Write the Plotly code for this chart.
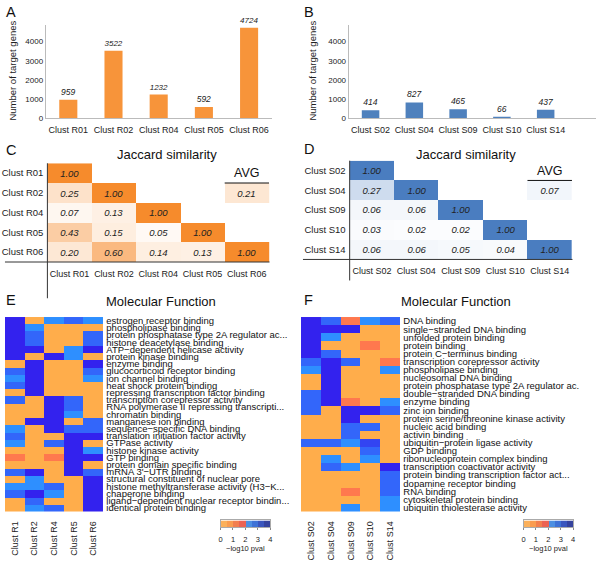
import plotly.graph_objects as go

# ---------------- data ----------------
bar_A_cats = ['Clust R01', 'Clust R02', 'Clust R04', 'Clust R05', 'Clust R06']
bar_A_vals = [959, 3522, 1232, 592, 4724]
bar_B_cats = ['Clust S02', 'Clust S04', 'Clust S09', 'Clust S10', 'Clust S14']
bar_B_vals = [414, 827, 465, 66, 437]

jac_C = [[1.00],
         [0.25, 1.00],
         [0.07, 0.13, 1.00],
         [0.43, 0.15, 0.05, 1.00],
         [0.20, 0.60, 0.14, 0.13, 1.00]]
avg_C = 0.21
jac_D = [[1.00],
         [0.27, 1.00],
         [0.06, 0.06, 1.00],
         [0.03, 0.02, 0.02, 1.00],
         [0.06, 0.06, 0.05, 0.04, 1.00]]
avg_D = 0.07

mf_E_cols = ['Clust R1', 'Clust R2', 'Clust R4', 'Clust R5', 'Clust R6']
mf_E_terms = [
    'estrogen receptor binding', 'phospholipase binding',
    'protein phosphatase type 2A regulator ac...', 'histone deacetylase binding',
    'ATP−dependent helicase activity', 'protein kinase binding', 'enzyme binding',
    'glucocorticoid receptor binding', 'ion channel binding', 'heat shock protein binding',
    'repressing transcription factor binding', 'transcription corepressor activity',
    'RNA polymerase II repressing transcripti...', 'chromatin binding',
    'manganese ion binding', 'sequence−specific DNA binding',
    'translation initiation factor activity', 'GTPase activity', 'histone kinase activity',
    'GTP binding', 'protein domain specific binding', "mRNA 3'−UTR binding",
    'structural constituent of nuclear pore', 'histone methyltransferase activity (H3−K...',
    'chaperone binding', 'ligand−dependent nuclear receptor bindin...', 'identical protein binding']
mf_E_vals = [
    [3.8, 0.2, 2.2, 2.7, 2.2],
    [3.8, 2.2, 0.2, 0.2, 0.2],
    [3.8, 2.7, 0.2, 0.2, 2.7],
    [3.8, 2.7, 0.2, 0.2, 2.7],
    [3.8, 3.8, 0.2, 2.2, 3.8],
    [3.8, 0.2, 3.8, 2.2, 0.2],
    [0.2, 3.8, 0.2, 0.2, 3.8],
    [2.7, 3.8, 0.2, 0.2, 2.7],
    [2.2, 3.8, 0.2, 0.2, 2.2],
    [2.7, 3.8, 0.2, 0.2, 0.2],
    [0.2, 3.8, 0.2, 0.2, 0.2],
    [2.7, 0.2, 3.8, 2.7, 0.2],
    [0.2, 0.2, 3.8, 2.7, 0.2],
    [0.2, 0.2, 3.8, 2.2, 0.2],
    [0.2, 3.8, 3.8, 0.2, 2.7],
    [2.2, 0.2, 3.8, 2.7, 2.7],
    [2.7, 0.2, 0.2, 3.8, 3.8],
    [2.2, 0.2, 2.7, 3.8, 0.2],
    [0.2, 0.2, 0.2, 3.8, 2.2],
    [1.2, 0.2, 1.2, 3.8, 3.8],
    [0.2, 0.2, 0.2, 3.8, 0.2],
    [2.7, 3.8, 0.2, 3.8, 2.7],
    [0.2, 2.2, 0.2, 0.2, 3.8],
    [2.2, 2.2, 2.7, 0.2, 3.8],
    [2.7, 3.8, 2.2, 0.2, 3.8],
    [0.2, 2.7, 0.2, 0.2, 3.8],
    [0.2, 2.2, 2.7, 0.2, 3.8]]

mf_F_cols = ['Clust S02', 'Clust S04', 'Clust S09', 'Clust S10', 'Clust S14']
mf_F_terms = [
    'DNA binding', 'single−stranded DNA binding', 'unfolded protein binding',
    'protein binding', 'protein C−terminus binding', 'transcription corepressor activity',
    'phospholipase binding', 'nucleosomal DNA binding',
    'protein phosphatase type 2A regulator ac.', 'double−stranded DNA binding',
    'enzyme binding', 'zinc ion binding', 'protein serine/threonine kinase activity',
    'nucleic acid binding', 'activin binding', 'ubiquitin−protein ligase activity',
    'GDP binding', 'ribonucleoprotein complex binding', 'transcription coactivator activity',
    'protein binding transcription factor act...', 'dopamine receptor binding',
    'RNA binding', 'cytoskeletal protein binding', 'ubiquitin thiolesterase activity']
mf_F_vals = [
    [3.8, 2.7, 1.2, 2.2, 2.7],
    [3.8, 3.8, 3.8, 0.2, 0.2],
    [3.8, 2.2, 0.2, 0.2, 0.2],
    [3.8, 0.2, 0.2, 1.2, 0.2],
    [3.8, 2.7, 0.2, 0.2, 0.2],
    [2.7, 3.8, 2.7, 0.2, 1.2],
    [2.2, 3.8, 0.2, 0.2, 2.2],
    [0.2, 3.8, 0.2, 0.2, 0.2],
    [0.2, 3.8, 0.2, 0.2, 0.2],
    [2.7, 3.8, 0.2, 0.2, 0.2],
    [2.7, 3.8, 1.2, 0.2, 2.2],
    [2.7, 0.2, 3.8, 3.8, 2.7],
    [0.2, 0.2, 3.8, 0.2, 0.2],
    [0.2, 0.2, 2.7, 2.7, 0.2],
    [0.2, 0.2, 2.7, 0.2, 0.2],
    [2.7, 2.7, 2.2, 3.3, 0.2],
    [0.2, 0.2, 0.2, 2.7, 0.2],
    [0.2, 2.2, 0.2, 2.2, 0.2],
    [0.2, 2.7, 2.2, 0.2, 3.8],
    [0.2, 0.2, 0.2, 0.2, 2.7],
    [0.2, 0.2, 0.2, 0.2, 2.7],
    [0.2, 0.2, 1.2, 0.2, 2.7],
    [0.2, 0.2, 0.2, 0.2, 2.2],
    [0.2, 0.2, 2.2, 0.2, 2.2]]

legend_ticks = [0, 1, 2, 3, 4]
legend_bins = [0.25, 0.75, 1.25, 1.75, 2.25, 2.75, 3.25, 3.75]

# ---------------- styling ----------------
W, H = 600, 561
FONT = 'Liberation Sans, Arial, Helvetica, sans-serif'
ORANGE_BAR = '#F7943A'
BLUE_BAR = '#4F81BD'
mf_colors = ['#FFAD4B', '#FFA04A', '#FF784E', '#FF6450', '#2E8FFF', '#3366FA', '#3344F2', '#3322EE']
leg_colors = ['#FBB05A', '#F99C50', '#F27F4E', '#EC6253', '#4C8FE2', '#3E72D6', '#3A56BE', '#35439E']


def stepped(colors):
    n = len(colors)
    cs = []
    for i, c in enumerate(colors):
        cs.append([i / n, c])
        cs.append([(i + 1) / n, c])
    return cs


def px(X):
    return X / W


def py(Y):
    return 1 - Y / H


fig = go.Figure()

# ---- A / B bars ----
for cats, vals, col, ax in [(bar_A_cats, bar_A_vals, ORANGE_BAR, ''),
                            (bar_B_cats, bar_B_vals, BLUE_BAR, '2')]:
    fig.add_trace(go.Bar(
        x=cats, y=vals, marker=dict(color=col, line=dict(width=0)), width=0.4,
        text=[str(v) for v in vals], textposition='outside', cliponaxis=False,
        textfont=dict(size=8.5, style='italic', color='#222'),
        xaxis='x' + ax, yaxis='y' + ax, showlegend=False, hoverinfo='skip'))

bar_y_common = dict(range=[0, 4880], tickvals=[0, 1000, 2000, 3000, 4000], showgrid=False,
                    zeroline=False, showline=True, linecolor='#BBBBBB', linewidth=1,
                    ticks='', tickfont=dict(size=8, color='#222'),
                    domain=[py(117.7), py(23)])
bar_x_common = dict(showline=True, linecolor='#BBBBBB', linewidth=1, ticks='',
                    tickfont=dict(size=9, color='#222'), showgrid=False,
                    ticklabelstandoff=3)

fig.update_layout(
    xaxis=dict(domain=[px(44), px(271.5)], anchor='y', range=[-0.5, 4.5], **bar_x_common),
    yaxis=dict(anchor='x', **bar_y_common),
    xaxis2=dict(domain=[px(349), px(598)], anchor='y2', range=[-0.5, 5.15], **bar_x_common),
    yaxis2=dict(anchor='x2', **bar_y_common),
)

# ---- C / D Jaccard ----
def jac_matrix(lower, avg):
    n = len(lower)
    z = [[None] * n for _ in range(n)]
    t = [[''] * n for _ in range(n)]
    for i, row in enumerate(lower):
        for j, v in enumerate(row):
            z[i][j] = v
            t[i][j] = f'{v:.2f}'
    z[1][n - 1] = avg
    t[1][n - 1] = f'{avg:.2f}'
    return z, t


for lower, avg, cats, col, ax in [(jac_C, avg_C, bar_A_cats, '#F68B2C', '3'),
                                  (jac_D, avg_D, bar_B_cats, '#4A7DC0', '4')]:
    z, t = jac_matrix(lower, avg)
    fig.add_trace(go.Heatmap(
        z=z, x=cats, y=cats, text=t, texttemplate='%{text}',
        textfont=dict(size=9.5, style='italic', color='#222'),
        colorscale=[[0, '#FFFFFF'], [1, col]], zmin=0, zmax=1, showscale=False,
        xaxis='x' + ax, yaxis='y' + ax, hoverinfo='skip'))
    fig.add_annotation(x=cats[-1], y=cats[0], xref='x' + ax, yref='y' + ax, text='AVG',
                       xanchor='center', yanchor='middle',
                       showarrow=False, font=dict(size=12.5, color='#111'))
    fig.add_shape(type='line', xref='x' + ax, yref='y' + ax, x0=3.5, x1=4.5, y0=0.5, y1=0.5,
                  line=dict(color='#111', width=1))

jac_x_common = dict(ticks='', showgrid=False, showline=False, zeroline=False,
                    tickfont=dict(size=9, color='#222'), ticklabelstandoff=5)
jac_y_common = dict(ticks='', showgrid=False, showline=False, zeroline=False,
                    autorange='reversed', tickfont=dict(size=9.5, color='#222'),
                    ticklabelstandoff=3)
fig.update_layout(
    xaxis3=dict(domain=[px(45.7), px(269.3)], anchor='y3', **jac_x_common),
    yaxis3=dict(domain=[py(263.3), py(163.3)], anchor='x3', **jac_y_common),
    xaxis4=dict(domain=[px(350), px(574.3)], anchor='y4', **jac_x_common),
    yaxis4=dict(domain=[py(260.7), py(160.7)], anchor='x4', **jac_y_common),
)
# axis frame lines of the Jaccard tables
for (vx, vy0, vy1, hx0, hx1, hy) in [(45.7, 163.3, 300, 3, 269.3, 263.3),
                                      (350, 160.7, 282, 303, 574.3, 260.7)]:
    fig.add_shape(type='line', xref='paper', yref='paper', x0=px(vx), x1=px(vx),
                  y0=py(vy0), y1=py(vy1), line=dict(color='#333', width=1))
    fig.add_shape(type='line', xref='paper', yref='paper', x0=px(hx0), x1=px(hx1),
                  y0=py(hy), y1=py(hy), line=dict(color='#333', width=1))

# ---- E / F molecular function heatmaps ----
for vals, terms, cols, ax, xd in [(mf_E_vals, mf_E_terms, mf_E_cols, '5', (3, 102)),
                                  (mf_F_vals, mf_F_terms, mf_F_cols, '6', (301, 401))]:
    fig.add_trace(go.Heatmap(
        z=vals, x=list(range(len(cols))), y=list(range(len(terms))),
        colorscale=stepped(mf_colors), zmin=0, zmax=4, showscale=False,
        xaxis='x' + ax, yaxis='y' + ax, hoverinfo='skip'))
    fig.update_layout(**{
        'xaxis' + ax: dict(domain=[px(xd[0]), px(xd[1])], anchor='y' + ax,
                           range=[-0.5, len(cols) - 0.5], tickvals=list(range(len(cols))),
                           ticktext=cols, tickangle=-90, ticks='', showgrid=False,
                           zeroline=False, showline=False,
                           tickfont=dict(size=9, color='#222'), ticklabelstandoff=7),
        'yaxis' + ax: dict(domain=[py(516), py(319)], anchor='x' + ax, side='right',
                           range=[len(terms) - 0.5, -0.5], tickvals=list(range(len(terms))),
                           ticktext=terms, ticks='', showgrid=False, zeroline=False,
                           showline=False, tickfont=dict(size=9.5, color='#111'),
                           ticklabelstandoff=2),
    })

# ---- colour legends ----
for ax, xd in [('7', (220, 270)), ('8', (525, 575))]:
    fig.add_trace(go.Heatmap(
        z=[legend_bins], x=legend_bins, y=[0], colorscale=stepped(leg_colors),
        zmin=0, zmax=4, showscale=False, xaxis='x' + ax, yaxis='y' + ax, hoverinfo='skip'))
    fig.update_layout(**{
        'xaxis' + ax: dict(domain=[px(xd[0]), px(xd[1])], anchor='y' + ax, range=[0, 4],
                           tickvals=legend_ticks, ticks='outside', ticklen=2, tickcolor='#888',
                           showline=True, mirror=True, linecolor='#AAAAAA', showgrid=False,
                           zeroline=False, tickfont=dict(size=7.5, color='#222'),
                           ticklabelstandoff=3),
        'yaxis' + ax: dict(domain=[py(532), py(525)], anchor='x' + ax, range=[-0.5, 0.5],
                           showticklabels=False, ticks='', showline=True, mirror=True,
                           linecolor='#AAAAAA', showgrid=False, zeroline=False),
    })
    fig.add_annotation(x=px((xd[0] + xd[1]) / 2), y=py(553.5), xref='paper', yref='paper',
                       xanchor='center', yanchor='middle',
                       text='−log10 pval', showarrow=False, font=dict(size=7.5, color='#222'))

# ---- titles, letters, axis titles ----
for txt, X, Y in [('Jaccard similarity', 166, 154), ('Jaccard similarity', 466.7, 154),
                  ('Molecular Function', 160, 303), ('Molecular Function', 456.7, 303)]:
    fig.add_annotation(x=px(X), y=py(Y), xref='paper', yref='paper', text=txt,
                       xanchor='center', yanchor='middle',
                       showarrow=False, font=dict(size=13, color='#111'))
for txt, X, Y in [('A', 2, 10), ('B', 302, 10), ('C', 2, 150), ('D', 302, 149),
                  ('E', 2, 302), ('F', 302, 302)]:
    fig.add_annotation(x=px(X), y=py(Y), xref='paper', yref='paper', text=txt,
                       xanchor='left', yanchor='middle',
                       showarrow=False, font=dict(size=14.5, color='#111'))
for X in [10.5, 312.5]:
    fig.add_annotation(x=px(X), y=py(69), xref='paper', yref='paper',
                       xanchor='center', yanchor='middle',
                       text='Number of target genes', textangle=-90, showarrow=False,
                       font=dict(size=9.5, color='#222'))

fig.update_layout(width=W, height=H, margin=dict(l=0, r=0, t=0, b=0),
                  paper_bgcolor='white', plot_bgcolor='rgba(0,0,0,0)',
                  font=dict(family=FONT, color='#222'), showlegend=False)

fig.write_html('out.html', config={'displayModeBar': False},
               post_script="document.body.style.margin='0';document.body.style.overflow='hidden';")
